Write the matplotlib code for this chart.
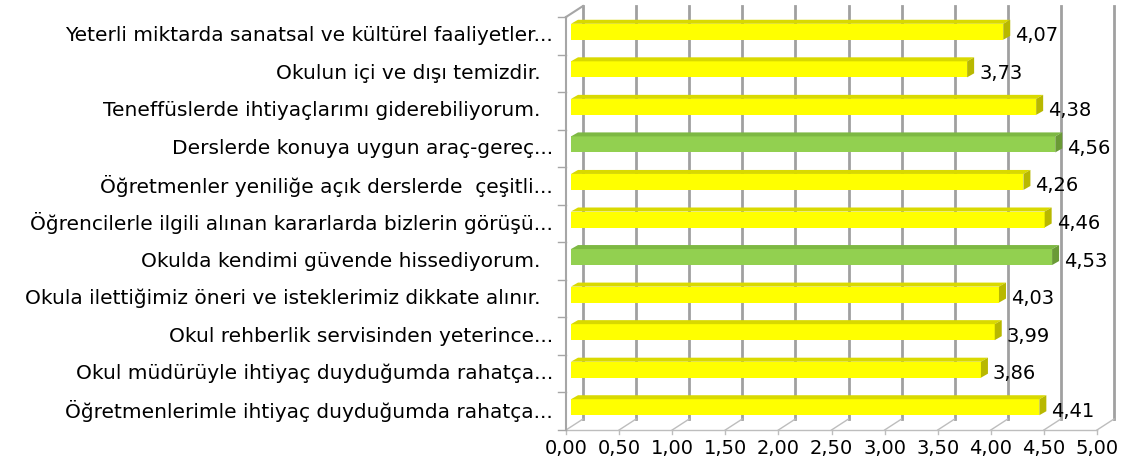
import matplotlib.pyplot as plt
from matplotlib.patches import Polygon, Rectangle

# kategoriler (alttan üste)
categories = [
    "Öğretmenlerimle ihtiyaç duyduğumda rahatça...",
    "Okul müdürüyle ihtiyaç duyduğumda rahatça...",
    "Okul rehberlik servisinden yeterince...",
    "Okula ilettiğimiz öneri ve isteklerimiz dikkate alınır.  ",
    "Okulda kendimi güvende hissediyorum.  ",
    "Öğrencilerle ilgili alınan kararlarda bizlerin görüşü...",
    "Öğretmenler yeniliğe açık derslerde  çeşitli...",
    "Derslerde konuya uygun araç-gereç...",
    "Teneffüslerde ihtiyaçlarımı giderebiliyorum.  ",
    "Okulun içi ve dışı temizdir.  ",
    "Yeterli miktarda sanatsal ve kültürel faaliyetler...",
]
values = [4.41, 3.86, 3.99, 4.03, 4.53, 4.46, 4.26, 4.56, 4.38, 3.73, 4.07]
ticks = [0.0, 0.5, 1.0, 1.5, 2.0, 2.5, 3.0, 3.5, 4.0, 4.5, 5.0]

plt.rcParams['font.family'] = ['DejaVu Sans']
FS_CAT = 14.5
FS_NUM = 14

W, H = 1144, 459
fig = plt.figure(figsize=(W / 100, H / 100), dpi=100)
x0, x1 = 566, 1097
ytop, ybot = 17, 430
ax = fig.add_axes([x0 / W, 1 - ybot / H, (x1 - x0) / W, (ybot - ytop) / H])
n = len(categories)
ax.set_xlim(0, 5)
ax.set_ylim(-0.5, n - 0.5)
ax.axis('off')

# piksel -> veri birimi
sx = 5 / (x1 - x0)
sy = n / (ybot - ytop)

back_dx, back_dy = 17 * sx, 11 * sy
bar_dx0, bar_dy0 = 5 * sx, 4 * sy
bar_h = 16 * sy
dep_dx, dep_dy = 7 * sx, 4 * sy

grid_c = '#A0A0A0'
floor_c = '#BDBDBD'
ybottom, ytopd = -0.5, n - 0.5

# arka duvar ve taban
for t in ticks:
    ax.plot([t + back_dx] * 2, [ybottom + back_dy, ytopd + back_dy], color=grid_c, lw=2, clip_on=False, zorder=1)
    ax.plot([t, t + back_dx], [ybottom, ybottom + back_dy], color=floor_c, lw=1, clip_on=False, zorder=1)
    ax.plot([t, t], [ybottom, ybottom - 4 * sy], color=floor_c, lw=1, clip_on=False, zorder=1)
    ax.text(t, ybottom - 19 * sy, f"{t:.2f}".replace('.', ','), ha='center', va='center', fontsize=FS_NUM)
ax.plot([0, 5], [ybottom, ybottom], color=floor_c, lw=1, clip_on=False, zorder=1)

# sol duvar
ax.plot([0, 0], [ybottom, ytopd], color='#A6A6A6', lw=1.5, clip_on=False, zorder=1)
ax.plot([0, back_dx], [ytopd, ytopd + back_dy], color='#A6A6A6', lw=1.5, clip_on=False, zorder=1)
for k in range(n + 1):
    ax.plot([0, -8 * sx], [k - 0.5, k - 0.5], color='#A6A6A6', lw=1, clip_on=False, zorder=1)

# çubuklar
for i, v in enumerate(values):
    if v >= 4.5:
        front, top, side = '#92D050', '#7DB843', '#6A9A36'
    else:
        front, top, side = '#FFFF00', '#D9D900', '#B8B800'
    yc = i + bar_dy0
    yl, yh = yc - bar_h / 2, yc + bar_h / 2
    xr = bar_dx0 + v
    ax.add_patch(Rectangle((bar_dx0, yl), v, bar_h, facecolor=front, edgecolor='none', zorder=3, clip_on=False))
    ax.add_patch(Polygon([(bar_dx0, yh), (xr, yh), (xr + dep_dx, yh + dep_dy), (bar_dx0 + dep_dx, yh + dep_dy)],
                         closed=True, facecolor=top, edgecolor='none', zorder=3, clip_on=False))
    ax.add_patch(Polygon([(xr, yl), (xr + dep_dx, yl + dep_dy), (xr + dep_dx, yh + dep_dy), (xr, yh)],
                         closed=True, facecolor=side, edgecolor='none', zorder=3, clip_on=False))
    ax.text(xr + dep_dx + 5 * sx, i, f"{v:.2f}".replace('.', ','), ha='left', va='center', fontsize=FS_NUM, zorder=4)

# kategori etiketleri
for i, c in enumerate(categories):
    ax.text(-13 * sx, i, c, ha='right', va='center', fontsize=FS_CAT)

fig.savefig('out.png', dpi=100)
